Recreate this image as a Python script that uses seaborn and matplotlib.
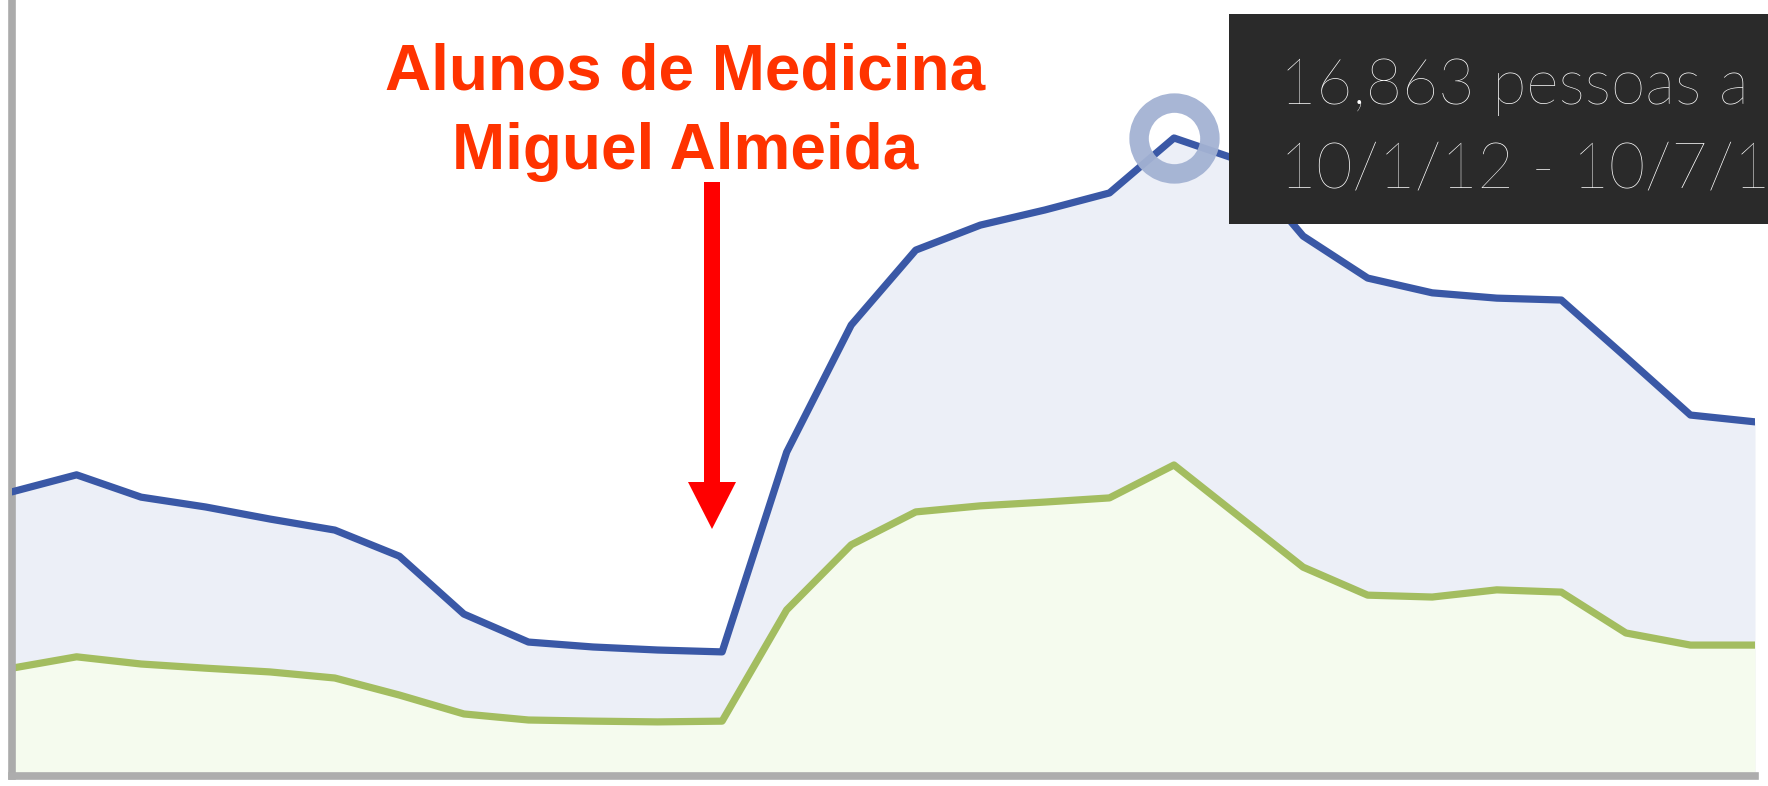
import pandas as pd
import numpy as np
import matplotlib
matplotlib.use('Agg')
import matplotlib.pyplot as plt
import seaborn as sns
from matplotlib.patches import Rectangle, FancyArrow

# semanas (a semana destacada no tooltip e 10/1/12 - 10/7/12)
semanas = pd.date_range('2012-05-28', periods=28, freq='7D')

# linha azul (total) e linha verde
total = [7510, 7960, 7370, 7110, 6790, 6500, 5810, 4280, 3540, 3410,
         3330, 3280, 8560, 11920, 13900, 14560, 14960, 15410, 16863, 16280,
         14270, 13160, 12770, 12630, 12580, 11070, 9540, 9360]
verde = [2850, 3150, 2960, 2850, 2750, 2590, 2140, 1640, 1480, 1450,
         1430, 1450, 4390, 6110, 6980, 7140, 7240, 7350, 8220, 6870,
         5520, 4780, 4730, 4920, 4860, 3780, 3460, 3460]

destaque = 18  # ponto com o circulo
# o tooltip aparece cortado na borda direita da imagem
tooltip_l1 = '16,863 pessoas a'
tooltip_l2 = '10/1/12 - 10/7/1'
nota_l1 = 'Alunos de Medicina'
nota_l2 = 'Miguel Almeida'

df = pd.DataFrame({'semana': semanas, 'total': total, 'verde': verde})

sns.set_style('white')
plt.rcParams['font.family'] = ['Liberation Sans', 'DejaVu Sans']

W, H = 1768, 786
fig = plt.figure(figsize=(W / 100, H / 100), dpi=100)


def fx(px):
    return px / W


def fy(py):
    return 1 - py / H


ax = fig.add_axes([fx(12), fy(776), fx(1755 - 12), 776 / H])

ax.fill_between(df['semana'], df['total'], color='#eceff7', lw=0, zorder=1)
ax.fill_between(df['semana'], df['verde'], color='#f5fbee', lw=0, zorder=1)
sns.lineplot(data=df, x='semana', y='total', color='#3a58a6', lw=5.2, ax=ax, zorder=3)
sns.lineplot(data=df, x='semana', y='verde', color='#a3bd60', lw=5.2, ax=ax, zorder=2)

ax.plot(df['semana'][destaque], df['total'][destaque], marker='o', ms=51, mfc='none',
        mec='#a3b2d3', mew=14, alpha=0.95, zorder=4)

ax.set_xlim(semanas[0], semanas[-1])
ax.set_ylim(0, 776 * 26.43)
ax.set_xlabel('')
ax.set_ylabel('')
ax.set_xticks([])
ax.set_yticks([])
ax.set_facecolor('white')
for s in ['top', 'right']:
    ax.spines[s].set_visible(False)
ax.spines['left'].set_color('#ababab')
ax.spines['left'].set_linewidth(5.5)
ax.spines['bottom'].set_color('#adadad')
ax.spines['bottom'].set_linewidth(5.5)

# anotacao em vermelho
fig.text(fx(685), fy(90), nota_l1, ha='center', va='baseline', fontsize=46,
         fontweight='bold', color='#ff3300')
fig.text(fx(685), fy(169), nota_l2, ha='center', va='baseline', fontsize=46,
         fontweight='bold', color='#ff3300')
seta = FancyArrow(fx(712), fy(182), 0, fy(529) - fy(182), width=fx(16),
                  head_width=fx(48), head_length=(529 - 482) / H,
                  length_includes_head=True, color='#ff0000', lw=0,
                  transform=fig.transFigure, zorder=5)
fig.add_artist(seta)

# tooltip escuro
caixa = Rectangle((fx(1229), fy(224)), fx(1768 - 1229) + 0.01, (224 - 14) / H,
                  transform=fig.transFigure, color='#2a2a2a', lw=0, zorder=6)
fig.add_artist(caixa)
fig.text(fx(1280), fy(104), tooltip_l1, ha='left', va='baseline', fontsize=45,
         family=['Lato', 'DejaVu Sans'], fontweight='light', color='white', zorder=7)
fig.text(fx(1280), fy(188), tooltip_l2, ha='left', va='baseline', fontsize=45,
         family=['Lato', 'DejaVu Sans'], fontweight='light', color='white', zorder=7)

fig.savefig('out.png', dpi=100, facecolor='white')
